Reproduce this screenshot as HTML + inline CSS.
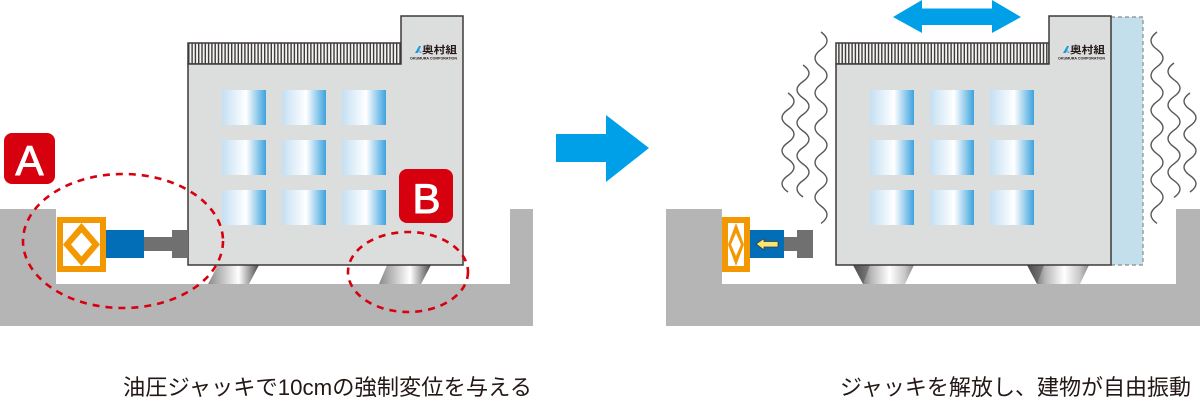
<!DOCTYPE html>
<html><head><meta charset="utf-8">
<style>
html,body{margin:0;padding:0;background:#fff;}
svg{display:block;}
</style></head>
<body>
<svg width="1200" height="402" viewBox="0 0 1200 402" xmlns="http://www.w3.org/2000/svg">
<defs>
  <linearGradient id="win" x1="0" y1="0" x2="1" y2="0">
    <stop offset="0" stop-color="#c4e0f3"/>
    <stop offset="0.55" stop-color="#ffffff"/>
    <stop offset="1" stop-color="#3da3df"/>
  </linearGradient>
  <linearGradient id="leg" x1="0" y1="0" x2="1" y2="0">
    <stop offset="0" stop-color="#8a8a8a"/>
    <stop offset="0.6" stop-color="#ffffff"/>
    <stop offset="1" stop-color="#4a4a4a"/>
  </linearGradient>
  <linearGradient id="cone" x1="0" y1="0" x2="1" y2="0">
    <stop offset="0" stop-color="#3e3e3e"/>
    <stop offset="0.3" stop-color="#b8b8b8"/>
    <stop offset="0.6" stop-color="#ffffff"/>
    <stop offset="0.85" stop-color="#c8c8c8"/>
    <stop offset="1" stop-color="#8a8a8a"/>
  </linearGradient>
  <pattern id="hatch" x="0" y="0" width="3.3" height="10" patternUnits="userSpaceOnUse">
    <rect width="3.3" height="10" fill="#f4f4f4"/>
    <rect width="1.4" height="10" fill="#3e3a39"/>
  </pattern>
</defs>

<!-- ===== LEFT PANEL ===== -->
<path d="M0,209 H56 V284 H510 V209 H533 V326 H0 Z" fill="#b5b5b6"/>

<!-- legs -->
<polygon points="218,265 259,265 249,284 208,284" fill="url(#leg)"/>
<polygon points="387,265 431,265 421,284 379,284" fill="url(#leg)"/>

<!-- roof hatch -->
<rect x="188" y="43" width="213" height="21" fill="url(#hatch)" stroke="#3e3a39" stroke-width="1.5"/>
<!-- building body -->
<path d="M188,64 H401 V16 H463 V265 H188 Z" fill="#dcdddd" stroke="#3e3a39" stroke-width="1.5"/>
<!-- windows -->
<g fill="url(#win)">
  <rect x="222" y="90" width="44" height="35"/><rect x="282" y="90" width="44" height="35"/><rect x="342" y="90" width="44" height="35"/>
  <rect x="222" y="140" width="44" height="35"/><rect x="282" y="140" width="44" height="35"/><rect x="342" y="140" width="44" height="35"/>
  <rect x="222" y="190" width="44" height="35"/><rect x="282" y="190" width="44" height="35"/><rect x="342" y="190" width="44" height="35"/>
</g>
<!-- logo -->
<path d="M415,53 L419,46 L421,46 L418,53 Z" fill="#1a9ae0"/>
<path d="M419,49 L422,53 L419.5,53 Z" fill="#68b7e8"/>
<text x="422" y="53.5" font-family="'Liberation Sans','Noto Sans CJK JP',sans-serif" font-size="10" font-weight="bold" fill="#231815" textLength="35" lengthAdjust="spacingAndGlyphs">奥村組</text>
<text x="410" y="59.5" font-family="'Liberation Sans',sans-serif" font-size="3.6" font-weight="bold" fill="#231815" textLength="47" lengthAdjust="spacingAndGlyphs">OKUMURA CORPORATION</text>

<!-- jack -->
<rect x="57" y="217" width="49" height="55" fill="#f39800"/>
<rect x="63" y="223" width="37" height="43" fill="#fff"/>
<polygon points="81.5,223 100,244.5 81.5,266 63,244.5" fill="#f39800"/>
<polygon points="81.5,232.5 92,244.5 81.5,256.5 71,244.5" fill="#fff"/>
<rect x="106" y="230" width="38" height="28" fill="#036eb8"/>
<rect x="144" y="237" width="28" height="14" fill="#717071"/>
<rect x="172" y="230" width="16" height="28" fill="#717071"/>

<!-- dashed ellipses -->
<ellipse cx="123" cy="241" rx="100" ry="67" fill="none" stroke="#d7000f" stroke-width="2.6" stroke-dasharray="7 6"/>
<ellipse cx="408" cy="272" rx="60" ry="40" fill="none" stroke="#d7000f" stroke-width="2.6" stroke-dasharray="7 6"/>

<!-- badges -->
<rect x="4" y="133" width="51" height="51" rx="8" fill="#d7000f"/>
<text x="29.5" y="175" text-anchor="middle" font-family="'Liberation Sans',sans-serif" font-size="42" fill="#fff" stroke="#fff" stroke-width="1">A</text>
<rect x="399" y="169" width="54" height="54" rx="8" fill="#d7000f"/>
<text x="426.5" y="213" text-anchor="middle" font-family="'Liberation Sans',sans-serif" font-size="42" fill="#fff" stroke="#fff" stroke-width="1">B</text>

<!-- middle arrow -->
<polygon points="556,134 606,134 606,115 649,148 606,182 606,162 556,162" fill="#00a0e9"/>

<!-- ===== RIGHT PANEL ===== -->
<path d="M666,209 H722 V284 H1176 V209 H1200 V326 H666 Z" fill="#b5b5b6"/>

<!-- cone legs -->
<polygon points="853,265 914,265 905,284 863,284" fill="url(#cone)"/>
<polygon points="853,265 870,265 863,284" fill="#555" opacity="0.55"/>
<polygon points="1027,265 1089,265 1080,284 1037,284" fill="url(#cone)"/>
<polygon points="1027,265 1044,265 1037,284" fill="#555" opacity="0.55"/>

<!-- light blue displaced strip -->
<rect x="1111" y="17" width="32" height="248" fill="#c4dfec"/>
<path d="M1111,17 H1143 V265 H1111" fill="none" stroke="#8a8a8a" stroke-width="1.2" stroke-dasharray="4 3"/>

<!-- roof hatch -->
<rect x="836" y="43" width="213" height="21" fill="url(#hatch)" stroke="#3e3a39" stroke-width="1.5"/>
<path d="M836,64 H1049 V16 H1111 V265 H836 Z" fill="#dcdddd" stroke="#3e3a39" stroke-width="1.5"/>
<g fill="url(#win)">
  <rect x="870" y="90" width="44" height="35"/><rect x="930" y="90" width="44" height="35"/><rect x="990" y="90" width="44" height="35"/>
  <rect x="870" y="140" width="44" height="35"/><rect x="930" y="140" width="44" height="35"/><rect x="990" y="140" width="44" height="35"/>
  <rect x="870" y="190" width="44" height="35"/><rect x="930" y="190" width="44" height="35"/><rect x="990" y="190" width="44" height="35"/>
</g>
<path d="M1063,53 L1067,46 L1069,46 L1066,53 Z" fill="#1a9ae0"/>
<path d="M1067,49 L1070,53 L1067.5,53 Z" fill="#68b7e8"/>
<text x="1070" y="53.5" font-family="'Liberation Sans','Noto Sans CJK JP',sans-serif" font-size="10" font-weight="bold" fill="#231815" textLength="35" lengthAdjust="spacingAndGlyphs">奥村組</text>
<text x="1058" y="59.5" font-family="'Liberation Sans',sans-serif" font-size="3.6" font-weight="bold" fill="#231815" textLength="47" lengthAdjust="spacingAndGlyphs">OKUMURA CORPORATION</text>

<!-- compressed jack -->
<rect x="722" y="217" width="28" height="55" fill="#f39800"/>
<rect x="728" y="223" width="16" height="43" fill="#fff"/>
<polygon points="736,223 744,244.5 736,266 728,244.5" fill="#f39800"/>
<polygon points="736,233 741,244.5 736,256 731,244.5" fill="#fff"/>
<rect x="750" y="230" width="34" height="28" fill="#036eb8"/>
<rect x="784" y="237" width="13" height="14" fill="#717071"/>
<rect x="797" y="230" width="16" height="28" fill="#717071"/>
<polygon points="756,244 764,238.5 764,241.5 778,241.5 778,247 764,247 764,250" fill="#f8e873" stroke="#3e3a39" stroke-width="0.8"/>

<!-- double arrow -->
<polygon points="893,17 922,0 922,8.5 992,8.5 992,0 1021,17 992,33 992,25 922,25 922,33" fill="#00a0e9"/>

<!-- vibration waves -->
<g fill="none" stroke="#595757" stroke-width="1.4">
  <path d="M821,32 q12,8.7 0,17.4 t0,17.4 t0,17.4 t0,17.4 t0,17.4 t0,17.4 t0,17.4 t0,17.4 t0,17.4 t0,17.4 t0,17.4"/>
  <path d="M803,65 q12,8.25 0,16.5 t0,16.5 t0,16.5 t0,16.5 t0,16.5 t0,16.5 t0,16.5 t0,16.5"/>
  <path d="M788,93 q12,8.25 0,16.5 t0,16.5 t0,16.5 t0,16.5 t0,16.5 t0,16.5"/>
  <path d="M1157,32 q-12,8.7 0,17.4 t0,17.4 t0,17.4 t0,17.4 t0,17.4 t0,17.4 t0,17.4 t0,17.4 t0,17.4 t0,17.4 t0,17.4"/>
  <path d="M1174,63 q-12,8.4 0,16.8 t0,16.8 t0,16.8 t0,16.8 t0,16.8 t0,16.8 t0,16.8 t0,16.8"/>
  <path d="M1190,93 q-12,8.25 0,16.5 t0,16.5 t0,16.5 t0,16.5 t0,16.5 t0,16.5"/>
</g>

<!-- captions -->
<text x="123" y="395" font-family="'Liberation Sans','Noto Sans CJK JP',sans-serif" font-size="22" fill="#231815" textLength="409" lengthAdjust="spacingAndGlyphs">油圧ジャッキで10cmの強制変位を与える</text>
<text x="840" y="395" font-family="'Liberation Sans','Noto Sans CJK JP',sans-serif" font-size="22" fill="#231815" textLength="351" lengthAdjust="spacingAndGlyphs">ジャッキを解放し、建物が自由振動</text>
</svg>
</body></html>
